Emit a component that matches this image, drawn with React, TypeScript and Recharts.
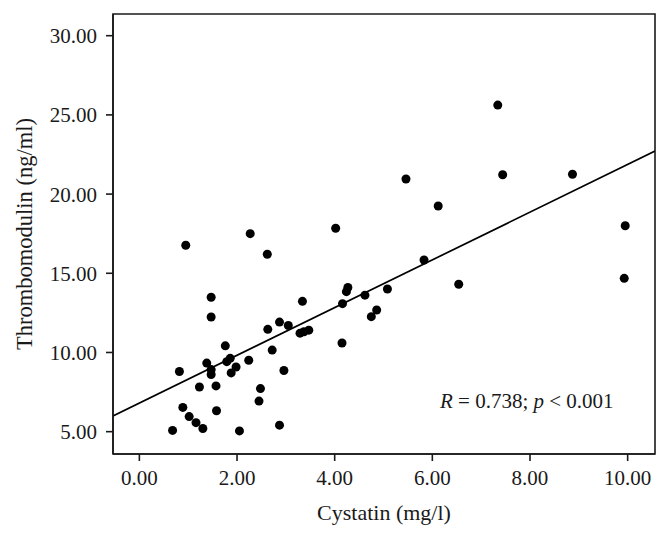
import React from 'react';
import {
  ScatterChart,
  Scatter,
  XAxis,
  YAxis,
  ReferenceLine,
  ReferenceArea,
  Label,
} from 'recharts';

// cystatin (mg/l) vs thrombomodulin (ng/ml)
const cystatin = [
  0.68, 0.82, 0.89, 0.95, 1.02, 1.16, 1.23, 1.3, 1.38, 1.47, 1.47, 1.47, 1.47, 1.57,
  1.58, 1.76, 1.79, 1.86, 1.88, 1.98, 2.05, 2.24, 2.27, 2.45, 2.48, 2.62, 2.63, 2.72,
  2.87, 2.87, 2.96, 3.05, 3.29, 3.34, 3.37, 3.47, 4.02, 4.15, 4.16, 4.24, 4.27, 4.62,
  4.75, 4.86, 5.08, 5.46, 5.83, 6.12, 6.54, 7.34, 7.44, 8.87, 9.93, 9.95,
];
const thrombomodulin = [
  5.08, 8.8, 6.53, 16.77, 5.95, 5.57, 7.82, 5.2, 9.33, 13.49, 12.24, 8.92, 8.61, 7.89,
  6.32, 10.42, 9.42, 9.63, 8.71, 9.08, 5.05, 9.51, 17.5, 6.93, 7.72, 16.2, 11.46, 10.15,
  11.92, 5.41, 8.86, 11.7, 11.22, 13.23, 11.31, 11.41, 17.84, 10.6, 13.08, 13.84, 14.1, 13.62,
  12.26, 12.68, 14.01, 20.95, 15.84, 19.25, 14.31, 25.62, 21.22, 21.25, 14.68, 18.0,
];

const xTicks = [0, 2, 4, 6, 8, 10];
const yTicks = [5, 10, 15, 20, 25, 30];
const xDomain: [number, number] = [-0.54, 10.56];
const yDomain: [number, number] = [3.59, 31.37];

// fitted line
const intercept = 6.81;
const slope = 1.506;

const points = cystatin.map((x, i) => ({ x, y: thrombomodulin[i] }));
const fit = xDomain.map((x) => ({ x, y: intercept + slope * x }));

const FONT = '"Liberation Serif", "DejaVu Serif", serif';
const INK = '#1a1a1a';

const Dot = (props: any) => <circle cx={props.cx} cy={props.cy} r={4.5} fill="#000" />;

export default function App() {
  return (
    <div style={{ position: 'absolute', left: 0, top: 0, width: 670, height: 537, background: '#fff' }}>
      <ScatterChart width={670} height={537} margin={{ top: 14, right: 15, bottom: 0, left: 0 }}>
        <XAxis
          type="number"
          dataKey="x"
          domain={xDomain}
          ticks={xTicks}
          allowDataOverflow
          tickFormatter={(v: number) => v.toFixed(2)}
          height={83}
          tickSize={7}
          tickMargin={9}
          stroke={INK}
          strokeWidth={1.6}
          tick={{ fill: INK, fontFamily: FONT, fontSize: 21 }}
        >
          <Label
            value="Cystatin (mg/l)"
            position="insideBottom"
            offset={17}
            style={{ fill: INK, fontFamily: FONT, fontSize: 22 }}
          />
        </XAxis>
        <YAxis
          type="number"
          dataKey="y"
          domain={yDomain}
          ticks={yTicks}
          allowDataOverflow
          tickFormatter={(v: number) => v.toFixed(2)}
          width={113}
          tickSize={7}
          tickMargin={9}
          stroke={INK}
          strokeWidth={1.6}
          tick={{ fill: INK, fontFamily: FONT, fontSize: 21 }}
        >
          <Label
            value="Thrombomodulin (ng/ml)"
            angle={-90}
            position="insideLeft"
            offset={24}
            style={{ fill: INK, fontFamily: FONT, fontSize: 22.5, textAnchor: 'middle' }}
          />
        </YAxis>
        <ReferenceArea
          x1={xDomain[0]}
          x2={xDomain[1]}
          y1={yDomain[0]}
          y2={yDomain[1]}
          fill="none"
          fillOpacity={0}
          stroke={INK}
          strokeWidth={1.6}
        />
        <ReferenceLine
          segment={fit}
          stroke="#000"
          strokeWidth={1.7}
          ifOverflow="hidden"
        />
        <Scatter data={points} shape={Dot} isAnimationActive={false} />
      </ScatterChart>
      <div
        style={{
          position: 'absolute',
          left: 440,
          top: 389,
          fontFamily: FONT,
          fontSize: 21,
          color: INK,
          whiteSpace: 'nowrap',
          lineHeight: '25px',
        }}
      >
        <i>R</i> = 0.738; <i>p</i> &lt; 0.001
      </div>
    </div>
  );
}
